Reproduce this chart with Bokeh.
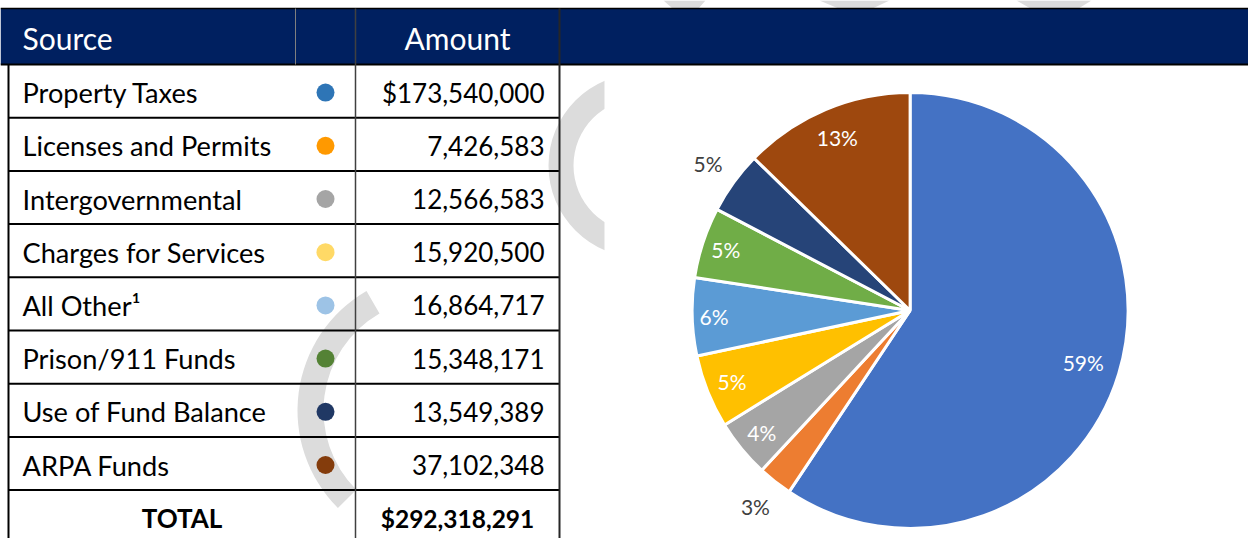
import math
from bokeh.plotting import figure
from bokeh.models import ColumnDataSource, Range1d
from bokeh.embed import file_html
from bokeh.resources import INLINE
from bokeh.core.properties import value

# ---------------- data ----------------
sources = ["Property Taxes", "Licenses and Permits", "Intergovernmental",
           "Charges for Services", "All Other\u00b9", "Prison/911 Funds",
           "Use of Fund Balance", "ARPA Funds"]
amounts = [173540000, 7426583, 12566583, 15920500, 16864717,
           15348171, 13549389, 37102348]
dot_colors = ["#2E75B6", "#FF9900", "#A5A5A5", "#FFD966", "#9DC3E6",
              "#548235", "#203864", "#843C0C"]
pie_colors = ["#4472C4", "#ED7D31", "#A5A5A5", "#FFC000", "#5B9BD5",
              "#70AD47", "#264478", "#9E480E"]
label_outside = [False, True, False, False, False, False, True, False]
header_source = "Source"
header_amount = "Amount"
total_text = "TOTAL"

# ---------------- geometry helpers (reference pixel -> data) ----------------
W, H = 1248, 538
def px(X):
    return X
def py(Y):
    return H - Y

FONT = value("Lato")
NAVY = "#002060"
WM = "#DCDCDC"   # faint watermark strokes

p = figure(width=W, height=H, x_range=Range1d(0, W), y_range=Range1d(0, H),
           x_axis_type=None, y_axis_type=None, toolbar_location=None,
           output_backend="svg", min_border=0)
p.outline_line_color = None
p.background_fill_color = "white"
p.border_fill_color = "white"
p.grid.visible = False

# ---------------- faint background watermark (partially visible) ----------------
p.annulus(x=[px(640)], y=[py(165)], inner_radius=67, outer_radius=92, fill_color=WM, line_color=None)
p.annular_wedge(x=[px(435)], y=[py(410)], inner_radius=112, outer_radius=138,
                start_angle=math.radians(120), end_angle=math.radians(225),
                fill_color=WM, line_color=None)
p.patches(xs=[[px(663), px(705), px(698), px(672)],
              [px(819), px(889), px(872), px(838)],
              [px(1016), px(1091), px(1078), px(1030)]],
          ys=[[py(0), py(0), py(8), py(8)]] * 3, fill_color=WM, line_color=None)
# chart area (white) hides the watermark behind the pie
p.quad(left=px(604), right=px(1260), top=py(64), bottom=py(560), fill_color="white", line_color=None)

# ---------------- table ----------------
TOP, HEAD_B, ROW_H = 8, 64, 53.2
LEFT, DIV1, DIV2, RIGHT = 8, 295, 355, 559
n = len(sources)

# header band
p.quad(left=px(0), right=px(1260), top=py(TOP), bottom=py(HEAD_B), fill_color=NAVY, line_color=None)
p.segment(x0=[px(0)], y0=[py(TOP)], x1=[px(1260)], y1=[py(TOP)], line_color="black", line_width=1.5)
p.segment(x0=[px(0)], y0=[py(HEAD_B)], x1=[px(1260)], y1=[py(HEAD_B)], line_color="black", line_width=2)
p.segment(x0=[px(DIV1)], y0=[py(TOP)], x1=[px(DIV1)], y1=[py(HEAD_B)], line_color="#7F7F7F", line_width=1)

# row borders
ys = [py(HEAD_B + ROW_H * (i + 1)) for i in range(n)]
p.segment(x0=[px(LEFT)] * n, y0=ys, x1=[px(RIGHT)] * n, y1=ys, line_color="black", line_width=2)
# vertical borders
p.segment(x0=[px(LEFT)], y0=[py(HEAD_B)], x1=[px(LEFT)], y1=[py(545)], line_color="black", line_width=2)
p.segment(x0=[px(DIV2)], y0=[py(TOP)], x1=[px(DIV2)], y1=[py(545)], line_color="#404040", line_width=1.5)
p.segment(x0=[px(RIGHT)], y0=[py(TOP)], x1=[px(RIGHT)], y1=[py(545)], line_color="#262626", line_width=2)

# header text
p.text(x=[px(22)], y=[py(37)], text=[header_source], text_color="white", text_font=FONT,
       text_font_size="30px", text_align="left", text_baseline="middle")
p.text(x=[px((DIV2 + RIGHT) / 2)], y=[py(37)], text=[header_amount], text_color="white", text_font=FONT,
       text_font_size="30px", text_align="center", text_baseline="middle")

# body rows
centers = [py(HEAD_B + ROW_H * (i + 0.5) + 1.5) for i in range(n)]
amount_text = [("${:,}" if i == 0 else "{:,}").format(a) for i, a in enumerate(amounts)]
tsrc = ColumnDataSource(dict(y=centers, src=sources, amt=amount_text, dot=dot_colors,
                             xl=[px(22)] * n, xd=[px(325)] * n, xa=[px(544)] * n))
p.text(x="xl", y="y", text="src", source=tsrc, text_color="black", text_font=FONT,
       text_font_size="27.2px", text_align="left", text_baseline="middle")
p.circle(x="xd", y="y", radius=9, source=tsrc, fill_color="dot", line_color=None)
p.text(x="xa", y="y", text="amt", source=tsrc, text_color="black", text_font=FONT,
       text_font_size="26px", text_align="right", text_baseline="middle")

# total row
total = sum(amounts)
ty = py(HEAD_B + ROW_H * (n + 0.5) + 1.5)
p.text(x=[px((LEFT + DIV2) / 2)], y=[ty], text=[total_text], text_color="black", text_font=FONT,
       text_font_size="26px", text_font_style="bold", text_align="center", text_baseline="middle")
p.text(x=[px((DIV2 + RIGHT) / 2)], y=[ty], text=["${:,}".format(total)], text_color="black", text_font=FONT,
       text_font_size="24.5px", text_font_style="bold", text_align="center", text_baseline="middle")

# ---------------- pie ----------------
CX, CY, R = px(909.6), py(310), 218
fracs = [a / total for a in amounts]
cum = [sum(fracs[:i]) for i in range(n + 1)]
start = [math.pi / 2 - 2 * math.pi * cum[i] for i in range(n)]
end = [math.pi / 2 - 2 * math.pi * cum[i + 1] for i in range(n)]
psrc = ColumnDataSource(dict(x=[CX] * n, y=[CY] * n, s=start, e=end, c=pie_colors))
p.wedge(x="x", y="y", radius=R, start_angle="s", end_angle="e", direction="clock",
        fill_color="c", line_color="white", line_width=3, source=psrc)

mids = [(s + e) / 2 for s, e in zip(start, end)]
lab_r = [0.83, 1.145, 0.88, 0.88, 0.90, 0.89, 1.145, 0.86]
lx = [CX + R * f * math.cos(m) for f, m in zip(lab_r, mids)]
ly = [CY + R * f * math.sin(m) for f, m in zip(lab_r, mids)]
ltxt = ["{}%".format(round(f * 100)) for f in fracs]
lcol = ["#404040" if o else "white" for o in label_outside]
p.text(x=lx, y=ly, text=ltxt, text_color=lcol, text_font=FONT, text_font_size="21px",
       text_align="center", text_baseline="middle")

open("out.html", "w").write(file_html(p, INLINE))
